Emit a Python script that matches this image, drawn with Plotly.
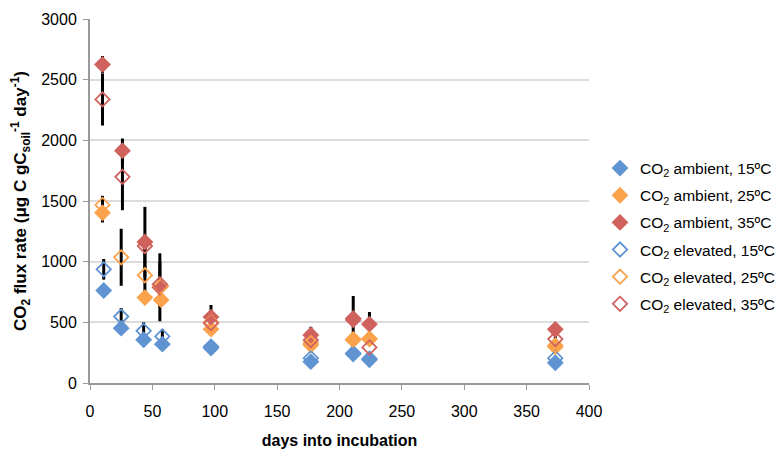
import plotly.graph_objects as go

# Data
days_15 = [11, 25, 43, 58, 97, 177, 211, 224, 373]
days_25 = [10, 25, 44, 57, 97, 177, 211, 224, 373]
days_35 = [10, 26, 44, 56, 97, 177, 211, 224, 373]

amb15 = [762, 452, 356, 320, 288, 176, 239, 192, 167]
amb25 = [1403, None, 704, 685, 444, 313, 354, 362, 299]
amb35 = [2625, 1915, 1162, 789, 543, 395, 532, 485, 442]
elev15 = [937, 548, 430, 384, 300, 205, 245, 200, 205]
elev25 = [1468, 1036, 888, 800, 500, 330, 360, 365, 310]
elev35 = [2337, 1699, 1129, 814, 493, 354, 520, 293, 362]

err_amb15 = [0, 0, 0, 0, 0, 0, 0, 0, 0]
err_amb25 = [80, 0, 0, 0, 0, 0, 0, 0, 0]
err_amb35 = [70, 100, 290, 280, 100, 68, 185, 100, 0]
err_elev15 = [85, 70, 70, 60, 0, 0, 0, 0, 0]
err_elev25 = [75, 235, 230, 0, 0, 0, 0, 0, 0]
err_elev35 = [215, 275, 0, 185, 0, 0, 0, 0, 40]

names = ["CO<sub>2</sub> ambient, 15ºC", "CO<sub>2</sub> ambient, 25ºC", "CO<sub>2</sub> ambient, 35ºC",
         "CO<sub>2</sub> elevated, 15ºC", "CO<sub>2</sub> elevated, 25ºC", "CO<sub>2</sub> elevated, 35ºC"]

BLUE = "#5F93D1"
ORANGE = "#FBA24C"
RED = "#D0625E"

series = [
    (days_15, amb15, err_amb15, BLUE, True),
    (days_25, amb25, err_amb25, ORANGE, True),
    (days_35, amb35, err_amb35, RED, True),
    (days_15, elev15, err_elev15, BLUE, False),
    (days_25, elev25, err_elev25, ORANGE, False),
    (days_35, elev35, err_elev35, RED, False),
]

fig = go.Figure()

# error bars first (underneath markers)
for (d, v, e, c, filled) in series:
    fig.add_trace(go.Scatter(
        x=d, y=v, mode="markers", marker=dict(size=1, opacity=0),
        error_y=dict(type="data", array=e, visible=True, color="black", thickness=3, width=0),
        showlegend=False, hoverinfo="skip"))

for i, ((d, v, e, c, filled), nm) in enumerate(zip(series, names)):
    if filled:
        mk = dict(symbol="diamond", size=13, color=c, line=dict(width=0))
    else:
        mk = dict(symbol="diamond-open", size=11, color=c, line=dict(width=1.8, color=c))
    fig.add_trace(go.Scatter(x=d, y=v, mode="markers", marker=mk, name=nm, legendgroup=f"g{i}"))

fig.update_layout(
    width=780, height=449,
    margin=dict(l=90, r=191, t=19, b=66, autoexpand=False),
    plot_bgcolor="white", paper_bgcolor="white",
    font=dict(family="Liberation Sans, Arial, sans-serif", size=16, color="black"),
    legend=dict(x=600 / 780, xref="container", xanchor="left",
                y=1 - 236 / 449, yref="container", yanchor="middle",
                font=dict(size=15.5), itemwidth=30, tracegroupgap=4,
                borderwidth=0, bgcolor="rgba(0,0,0,0)"),
    showlegend=True,
)

fig.update_xaxes(range=[0, 400], tickmode="linear", tick0=0, dtick=50, automargin=False,
                 showline=True, linecolor="#9a9a9a", linewidth=2,
                 ticks="outside", ticklen=5, tickcolor="#9a9a9a", showgrid=False, zeroline=False,
                 ticklabelstandoff=8,
                 title=dict(text="<b>days into incubation</b>", font=dict(size=16), standoff=18))
fig.update_yaxes(range=[0, 3000], tickmode="linear", tick0=0, dtick=500, automargin=False,
                 showline=True, linecolor="#9a9a9a", linewidth=2,
                 ticks="outside", ticklen=5, tickcolor="#9a9a9a",
                 showgrid=True, gridcolor="#dcdcdc", gridwidth=2, zeroline=False,
                 ticklabelstandoff=3,
                 title=dict(text="<b>CO<sub>2</sub> flux rate (μg C gC<sub>soil</sub><sup>-1</sup> day<sup>-1</sup>)</b>",
                            font=dict(size=17), standoff=10))

fig.write_html("out.html", config={"displayModeBar": False},
               post_script="document.body.style.margin='0';")
